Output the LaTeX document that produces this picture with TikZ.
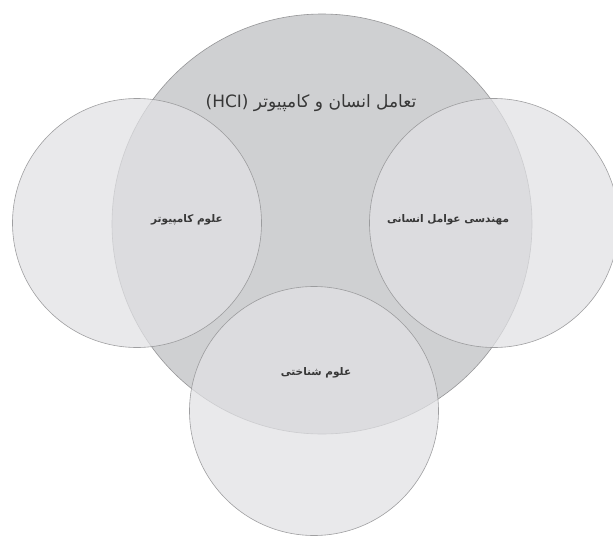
\documentclass[tikz,border=0pt]{standalone}
\usepackage{fontspec}
\TeXXeTstate=1
\newfontfamily\arabicfont[Script=Arabic]{DejaVu Sans}
\definecolor{bigfill}{RGB}{207,208,210}
\definecolor{smallfill}{RGB}{225,225,228}
\definecolor{edgegray}{RGB}{150,150,152}
\definecolor{txtgray}{RGB}{55,55,55}
\begin{document}
\begin{tikzpicture}[x=1pt,y=-1pt,
  bigc/.style={circle, draw=edgegray, line width=0.6pt, fill=bigfill, minimum size=420pt, inner sep=0pt},
  smallc/.style={circle, draw=edgegray, line width=0.6pt, fill=smallfill, fill opacity=0.73, draw opacity=0.9, minimum size=249pt, inner sep=0pt},
  lbl/.style={text=txtgray, font=\arabicfont\bfseries\fontsize{10.5}{13}\selectfont, inner sep=0pt},
  ttl/.style={text=txtgray, font=\arabicfont\fontsize{17}{20}\selectfont, inner sep=0pt}]
\useasboundingbox (0,0) rectangle (613,538);
\fill[white] (0,0) rectangle (613,538);
\node[bigc] (hci) at (322,224) {};
\node[smallc] (cs) at (137,223) {};
\node[smallc] (hf) at (494,223) {};
\node[smallc] (cog) at (314,411) {};
\node[ttl] (hcilbl) at (311,103) {\beginR تعامل انسان و کامپیوتر \beginL(HCI)\endL\endR};
\node[lbl] (cslbl) at (187,220) {\beginR علوم کامپیوتر\endR};
\node[lbl] (hflbl) at (448,220) {\beginR مهندسی عوامل انسانی\endR};
\node[lbl] (coglbl) at (316,373) {\beginR علوم شناختی\endR};
\end{tikzpicture}
\end{document}
